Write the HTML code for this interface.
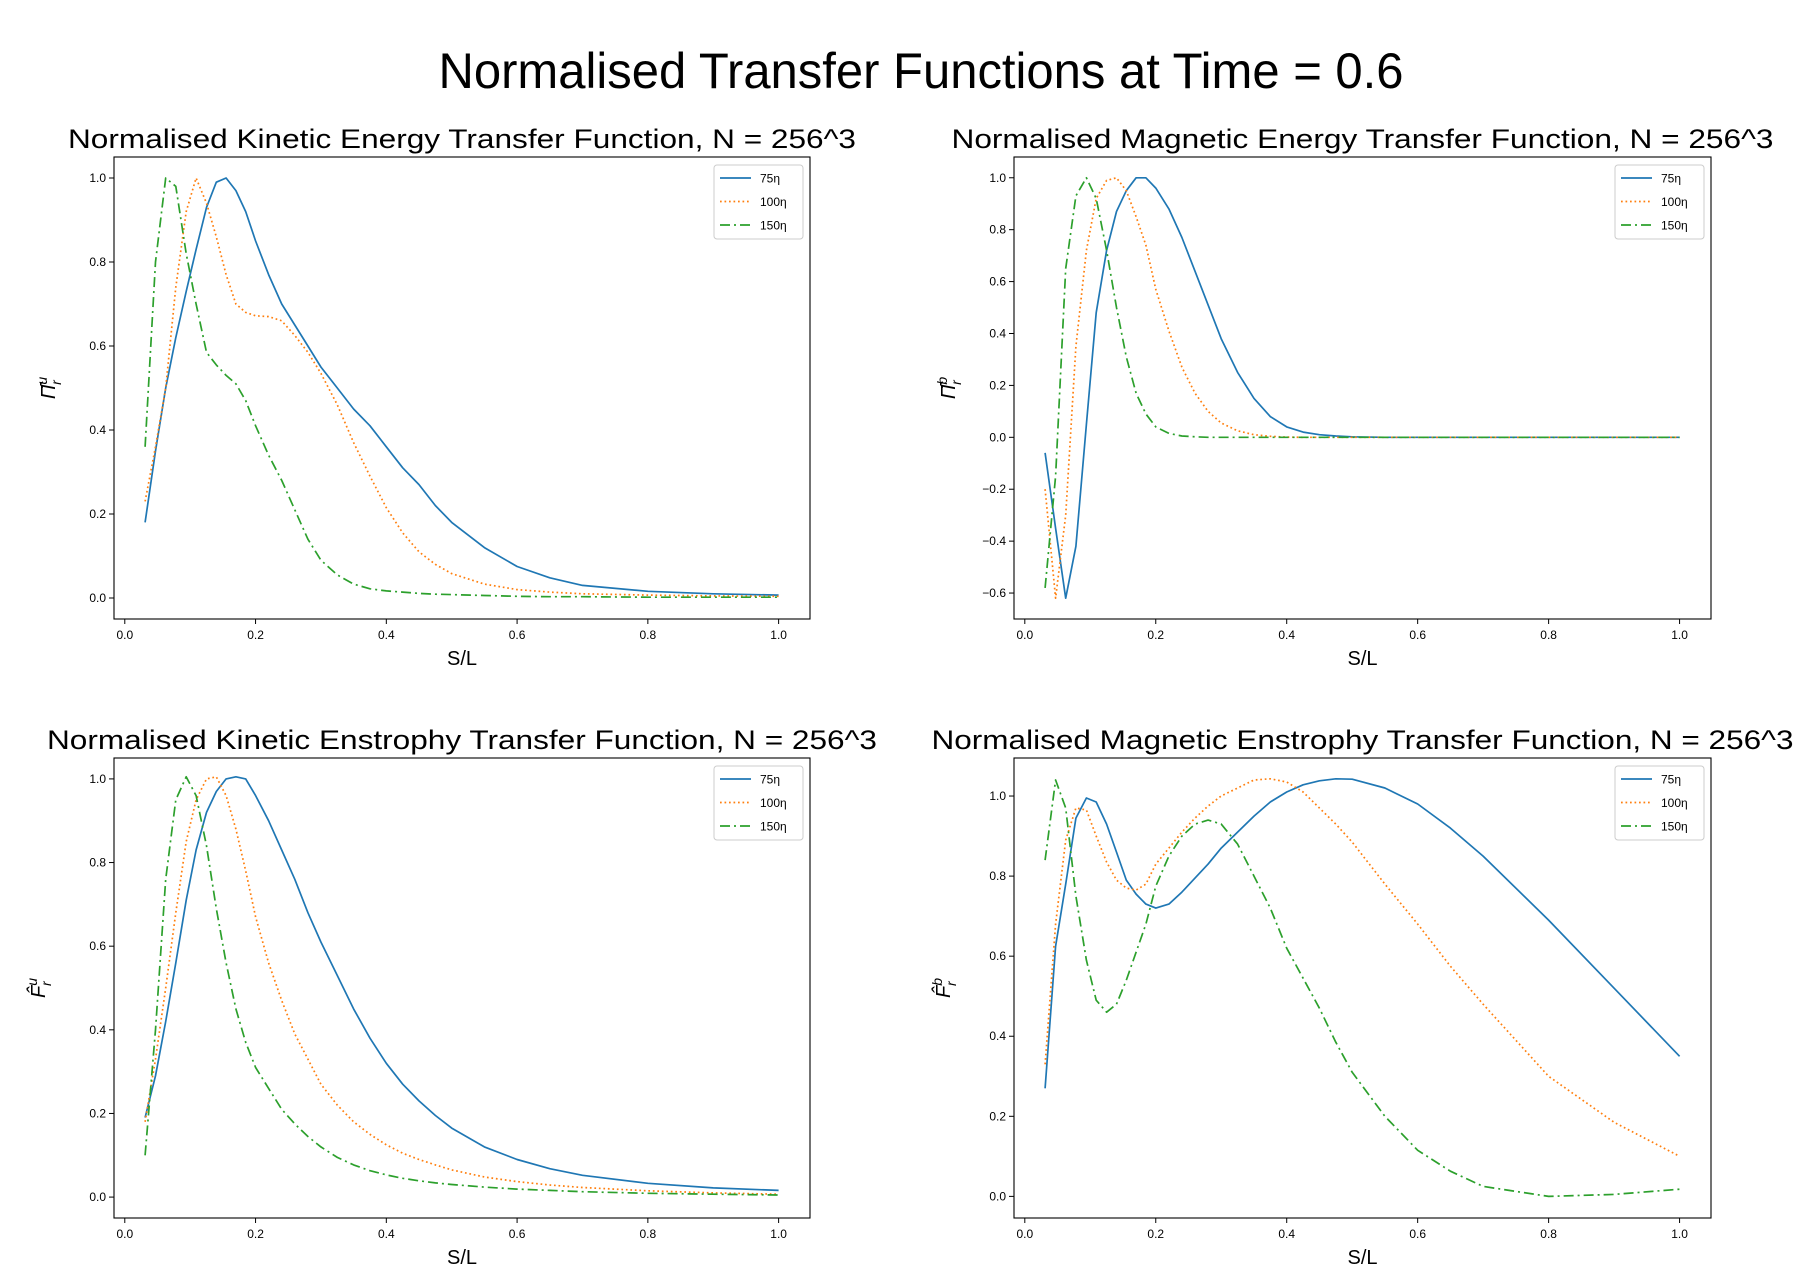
<!DOCTYPE html>
<html><head><meta charset="utf-8"><style>
body{margin:0;background:#fff}
svg{display:block;font-family:"Liberation Sans","DejaVu Sans",sans-serif}
</style></head><body>
<svg id="fig" width="1800" height="1284" viewBox="0 0 1800 1284">
<text x="921" y="88" font-size="50" text-anchor="middle" textLength="965" lengthAdjust="spacingAndGlyphs">Normalised Transfer Functions at Time = 0.6</text>
</svg>
<script>
const xs = [0.031,0.047,0.0625,0.078,0.094,0.109,0.125,0.14,0.155,0.17,0.185,0.2,0.22,0.24,0.26,0.28,0.3,0.325,0.35,0.375,0.4,0.425,0.45,0.475,0.5,0.55,0.6,0.65,0.7,0.8,0.9,1.0];
const seriesLabels = ["75η","100η","150η"];
const keBlue = [.18,.35,.50,.62,.73,.83,.93,.99,1.0,.97,.92,.85,.77,.70,.65,.60,.55,.50,.45,.41,.36,.31,.27,.22,.18,.12,.075,.048,.03,.016,.01,.007];
const keOrange = [.23,.36,.50,.74,.92,1.0,.94,.86,.77,.70,.68,.672,.67,.66,.625,.585,.535,.46,.37,.29,.215,.155,.11,.08,.058,.033,.02,.014,.01,.007,.005,.004];
const keGreen = [.36,.80,1.0,.98,.82,.70,.585,.555,.53,.51,.47,.41,.34,.28,.21,.14,.09,.055,.033,.022,.017,.014,.011,.009,.008,.006,.004,.003,.003,.002,.002,.002];
const meBlue = [-.06,-.35,-.62,-.42,.05,.48,.72,.87,.95,1.0,1.0,.96,.88,.77,.64,.51,.38,.25,.15,.08,.04,.02,.01,.005,.002,0,0,0,0,0,0,0];
const meOrange = [-.2,-.62,-.3,.35,.72,.92,.99,1.0,.95,.85,.74,.57,.41,.27,.17,.10,.055,.025,.01,.004,.001,0,0,0,0,0,0,0,0,0,0,0];
const meGreen = [-.58,-.15,.65,.93,1.0,.92,.72,.5,.31,.17,.09,.04,.015,.005,.002,0,0,0,0,0,0,0,0,0,0,0,0,0,0,0,0,0];
const kzBlue = [.19,.29,.42,.56,.71,.83,.92,.97,1.0,1.005,1.0,.96,.90,.83,.76,.68,.61,.53,.45,.38,.32,.27,.23,.195,.165,.12,.09,.068,.052,.033,.022,.016];
const kzOrange = [.18,.33,.50,.68,.85,.95,1.0,1.005,.96,.88,.78,.67,.56,.47,.39,.33,.27,.22,.18,.15,.125,.105,.09,.077,.065,.048,.037,.029,.023,.015,.01,.007];
const kzGreen = [.10,.40,.76,.95,1.005,.96,.84,.69,.56,.45,.37,.31,.26,.21,.175,.145,.12,.095,.077,.063,.053,.045,.039,.034,.03,.024,.019,.016,.013,.009,.007,.005];
const mzBlue = [.27,.625,.78,.945,.995,.985,.93,.86,.79,.755,.73,.72,.73,.76,.795,.83,.87,.91,.95,.985,1.01,1.028,1.038,1.043,1.042,1.02,.98,.92,.85,.69,.52,.35];
const mzOrange = [.33,.68,.89,.97,.965,.90,.835,.79,.77,.765,.78,.83,.87,.91,.945,.975,1.0,1.02,1.04,1.043,1.035,1.01,.97,.93,.885,.78,.68,.575,.48,.30,.185,.10];
const mzGreen = [.84,1.04,.97,.75,.59,.49,.46,.48,.54,.61,.68,.775,.85,.90,.93,.94,.93,.88,.80,.72,.62,.545,.47,.385,.31,.20,.115,.063,.025,0,.005,.018];
const xTicks = [0,0.2,0.4,0.6,0.8,1.0];
const xTickLabels = ["0.0","0.2","0.4","0.6","0.8","1.0"];
const yTicksA = [0,0.2,0.4,0.6,0.8,1.0];
const yTicksB = [-0.6,-0.4,-0.2,0,0.2,0.4,0.6,0.8,1.0];
const yTickLabelsA = ["0.0","0.2","0.4","0.6","0.8","1.0"];
const yTickLabelsB = ["−0.6","−0.4","−0.2","0.0","0.2","0.4","0.6","0.8","1.0"];

const NS="http://www.w3.org/2000/svg";
const svg=document.getElementById('fig');
function mk(tag,attrs,parent){const e=document.createElementNS(NS,tag);for(const k in attrs)e.setAttribute(k,attrs[k]);(parent||svg).appendChild(e);return e;}
const colors=["#1f77b4","#ff7f0e","#2ca02c"];
const dashes=["none","1.7,2.8","10,4,2,4"];

function panel(cfg){
  const g=mk('g',{});
  
  
  const L=cfg.L,R=cfg.R,T=cfg.T,B=cfg.B;
  const X=v=>L+(v-cfg.xmin)/(cfg.xmax-cfg.xmin)*(R-L);
  const Y=v=>B-(v-cfg.ymin)/(cfg.ymax-cfg.ymin)*(B-T);
  const t=mk('text',{x:(L+R)/2,y:T-9,'font-size':27,'text-anchor':'middle',textLength:cfg.titleW,lengthAdjust:'spacingAndGlyphs'},g);
  t.textContent=cfg.title;
  
  
  cfg.series.forEach((s,i)=>{
    const d=xs.map((x,j)=>(j?'L':'M')+X(x).toFixed(1)+','+Y(s[j]).toFixed(1)).join('');
    const p=mk('path',{d:d,fill:'none',stroke:colors[i],'stroke-width':1.7,'stroke-dasharray':dashes[i],'stroke-linejoin':'round'},g);
    
    
  });
  const fr=mk('rect',{x:L,y:T,width:R-L,height:B-T,fill:'none',stroke:'#000','stroke-width':1.1},g);
  
  
  xTicks.forEach((v,i)=>{
    mk('line',{x1:X(v),x2:X(v),y1:B,y2:B+5,stroke:'#000','stroke-width':1},g);
    const tl=mk('text',{x:X(v),y:B+20,'font-size':12,'text-anchor':'middle'},g);
    tl.textContent=xTickLabels[i];
    
    
  });
  cfg.yTicks.forEach((v,i)=>{
    mk('line',{x1:L-5,x2:L,y1:Y(v),y2:Y(v),stroke:'#000','stroke-width':1},g);
    const tl=mk('text',{x:L-8,y:Y(v)+4,'font-size':12,'text-anchor':'end'},g);
    tl.textContent=cfg.yLabels[i];
    
    
  });
  const xl=mk('text',{x:(L+R)/2,y:B+46,'font-size':20,'text-anchor':'middle'},g);
  xl.textContent='S/L';
  
  
  const yl=mk('text',{x:0,y:0,'font-size':20,'text-anchor':'middle','font-style':'italic',transform:`translate(${cfg.ylx},${(T+B)/2}) rotate(-90)`},g);
  yl.innerHTML=cfg.ylab+'<tspan font-size="14" dy="-8">'+cfg.sup+'</tspan><tspan font-size="14" dx="-8" dy="14">r</tspan>';
  
  
  const lx=R-96,ly=T+8;
  const lg=mk('g',{},g);
  
  
  mk('rect',{x:lx,y:ly,width:89,height:74,rx:3,fill:'#fff','fill-opacity':0.8,stroke:'#ccc','stroke-width':1},lg);
  seriesLabels.forEach((lab,i)=>{
    const yy=ly+13+i*23.5;
    mk('line',{x1:lx+6,x2:lx+37,y1:yy,y2:yy,stroke:colors[i],'stroke-width':1.7,'stroke-dasharray':dashes[i]},lg);
    const tt=mk('text',{x:lx+46,y:yy+4.5,'font-size':12},lg);
    tt.textContent=lab;
    
    
  });
}
const xmin=-0.0165,xmax=1.048;
panel({name:'kinetic-energy-panel',L:114,R:810,T:157,B:619,xmin,xmax,ymin:-0.05,ymax:1.05,yTicks:yTicksA,yLabels:yTickLabelsA,series:[keBlue,keOrange,keGreen],title:'Normalised Kinetic Energy Transfer Function, N = 256^3',titleW:788,ylab:'Π̂',sup:'u',ylx:55});
panel({name:'magnetic-energy-panel',L:1014,R:1711,T:157,B:619,xmin,xmax,ymin:-0.70,ymax:1.08,yTicks:yTicksB,yLabels:yTickLabelsB,series:[meBlue,meOrange,meGreen],title:'Normalised Magnetic Energy Transfer Function, N = 256^3',titleW:822,ylab:'Π̂',sup:'b',ylx:955});
panel({name:'kinetic-enstrophy-panel',L:114,R:810,T:758,B:1218,xmin,xmax,ymin:-0.05,ymax:1.05,yTicks:yTicksA,yLabels:yTickLabelsA,series:[kzBlue,kzOrange,kzGreen],title:'Normalised Kinetic Enstrophy Transfer Function, N = 256^3',titleW:830,ylab:'F̂',sup:'u',ylx:45});
panel({name:'magnetic-enstrophy-panel',L:1014,R:1711,T:758,B:1218,xmin,xmax,ymin:-0.054,ymax:1.095,yTicks:yTicksA,yLabels:yTickLabelsA,series:[mzBlue,mzOrange,mzGreen],title:'Normalised Magnetic Enstrophy Transfer Function, N = 256^3',titleW:862,ylab:'F̂',sup:'b',ylx:950});
</script>
</body></html>
